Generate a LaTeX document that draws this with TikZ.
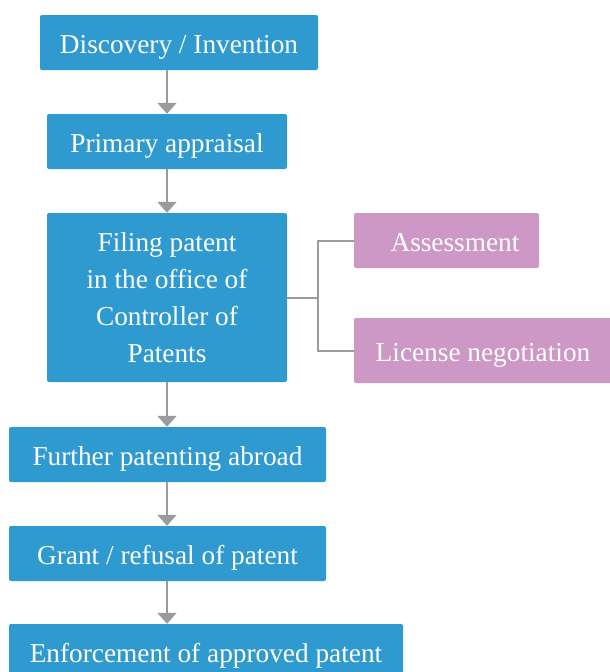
\documentclass[tikz,border=0pt]{standalone}
\usepackage{fontspec}
\setmainfont{Liberation Serif}
\usetikzlibrary{arrows.meta}
\definecolor{boxblue}{HTML}{2F9ACF}
\definecolor{boxpink}{HTML}{CE98C6}
\definecolor{linegray}{HTML}{9B9B9D}
\begin{document}
\begin{tikzpicture}[x=1pt,y=-1pt,
  basebox/.style={draw=none, rounded corners=2pt, inner sep=0pt, text=white, align=center,
    font=\fontsize{27.3}{37}\selectfont},
  oneline/.style={text height=22pt, text depth=0pt},
  bluebox/.style={basebox, fill=boxblue},
  pinkbox/.style={basebox, fill=boxpink, oneline},
  flow/.style={draw=linegray, line width=2pt, -{Triangle[width=19pt,length=11pt]}, color=linegray},
  conn/.style={draw=linegray, line width=2pt}]
\useasboundingbox (0,0) rectangle (610,672);
\clip (0,0) rectangle (610,672);
\node[bluebox, oneline, minimum width=278pt, minimum height=55pt] (n1) at (179,42.5) {Discovery / Invention};
\node[bluebox, oneline, minimum width=240pt, minimum height=55pt] (n2) at (167,141.5) {Primary appraisal};
\node[bluebox, minimum width=240pt, minimum height=169pt] (n3) at (167,297.5) {Filing patent\\in the office of\\Controller of\\Patents};
\node[pinkbox, minimum width=185pt, minimum height=55pt] (a1) at (446.5,240.5) {\hspace*{17pt}Assessment};
\node[pinkbox, minimum width=258pt, minimum height=65pt] (a2) at (483,350.5) {License negotiation};
\node[bluebox, oneline, minimum width=317pt, minimum height=55pt] (n4) at (167.5,454.5) {Further patenting abroad};
\node[bluebox, oneline, minimum width=317pt, minimum height=55pt] (n5) at (167.5,553.5) {Grant / refusal of patent};
\node[bluebox, oneline, minimum width=394pt, minimum height=55pt] (n6) at (206,651.5) {Enforcement of approved patent};
\coordinate (j) at (318,297.5);
\draw[flow] (n1.south -| n2.north) -- (n2.north);
\draw[flow] (n2.south) -- (n3.north);
\draw[flow] (n3.south) -- (n4.north -| n3.south);
\draw[flow] (n4.south -| n3.south) -- (n5.north -| n3.south);
\draw[flow] (n5.south -| n3.south) -- (n6.north -| n3.south);
\draw[conn] (n3.east) -- (j);
\draw[conn] (a1.west) -| (j) |- (a2.west);
\end{tikzpicture}
\end{document}
